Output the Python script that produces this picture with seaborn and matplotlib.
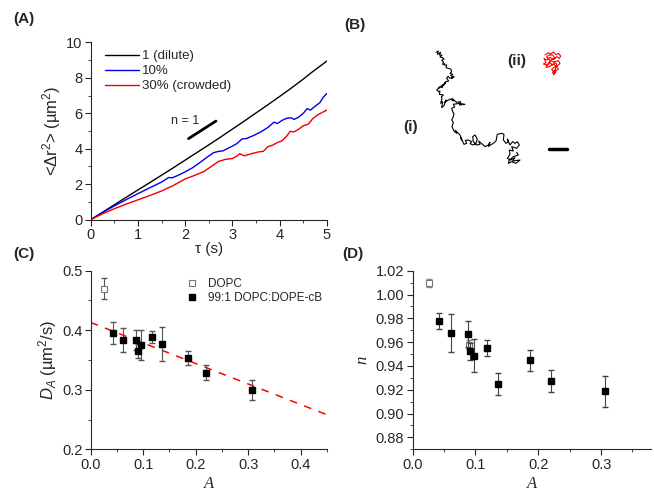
import numpy as np
import pandas as pd
import matplotlib
matplotlib.use('Agg')
import matplotlib.pyplot as plt
import seaborn as sns
from matplotlib.ticker import MultipleLocator, FormatStrFormatter

sns.set_style('ticks')
plt.rcParams['font.family'] = ['Liberation Sans', 'DejaVu Sans']
plt.rcParams['mathtext.fontset'] = 'custom'
plt.rcParams['mathtext.rm'] = 'Liberation Sans'
plt.rcParams['mathtext.it'] = 'Liberation Sans:italic'
plt.rcParams['axes.linewidth'] = 0.8

#%% DATA
# (A) MSD curves
t_dilute = [0, 0.25, 0.5, 0.75, 1, 1.25, 1.5, 1.75, 2, 2.25, 2.5, 2.75, 3, 3.25, 3.5, 3.75,
            4, 4.25, 4.5, 4.65, 4.8, 5]
msd_dilute = [0, 0.42, 0.84, 1.26, 1.68, 2.09, 2.51, 2.93, 3.36, 3.79, 4.22, 4.66, 5.11, 5.56,
              6.02, 6.48, 6.95, 7.43, 7.93, 8.25, 8.55, 8.95]
t_10 = [0, 0.25, 0.5, 0.75, 1, 1.25, 1.5, 1.65, 1.72, 1.85, 2, 2.15, 2.3, 2.45, 2.6, 2.7, 2.8,
        2.9, 3.0, 3.1, 3.2, 3.3, 3.45, 3.6, 3.75, 3.88, 3.95, 4.05, 4.15, 4.25, 4.3, 4.4, 4.5,
        4.58, 4.65, 4.75, 4.85, 4.92, 5.0]
msd_10 = [0, 0.4, 0.78, 1.13, 1.47, 1.8, 2.12, 2.38, 2.36, 2.5, 2.7, 2.92, 3.2, 3.5, 3.78, 3.85,
          3.88, 4.02, 4.15, 4.3, 4.55, 4.58, 4.75, 4.95, 5.2, 5.5, 5.42, 5.6, 5.72, 5.74, 5.65,
          5.78, 6.0, 6.26, 6.18, 6.4, 6.6, 6.9, 7.12]
t_30 = [0, 0.25, 0.5, 0.75, 1, 1.25, 1.5, 1.75, 2, 2.2, 2.4, 2.55, 2.7, 2.85, 3.0, 3.1, 3.15,
        3.25, 3.4, 3.55, 3.65, 3.75, 3.85, 3.95, 4.05, 4.15, 4.22, 4.3, 4.4, 4.5, 4.6, 4.7, 4.8,
        4.9, 5.0]
msd_30 = [0, 0.33, 0.62, 0.88, 1.12, 1.36, 1.62, 1.93, 2.3, 2.5, 2.72, 3.0, 3.28, 3.4, 3.45,
          3.6, 3.72, 3.6, 3.72, 3.82, 3.85, 4.12, 4.2, 4.35, 4.45, 4.72, 4.98, 4.95, 5.1, 5.3,
          5.38, 5.7, 5.9, 6.05, 6.18]
series_labels = ['1 (dilute)', '10%', '30% (crowded)']
slope_t = [2.07, 2.65]
slope_msd = [4.57, 5.56]

# (B) trajectories (units of 1/54 um)
traj_i_x = [48, 55, 52, 62, 58, 66, 60, 68, 72, 65, 70, 68, 74, 72, 80, 78, 85, 92, 95, 90, 98,
            92, 102, 95, 100, 90, 84, 80, 86, 78, 72, 76, 65, 70, 55, 60, 50, 56, 60, 58, 70,
            64, 66, 62, 68, 65, 72, 78, 74, 90, 100, 96, 110, 122, 118, 135, 118, 100, 104, 95,
            98, 102, 100, 95, 100, 96, 102, 110, 106, 120, 125, 122, 132, 140, 136, 145, 155,
            150, 160, 168, 172, 165, 158, 160, 170, 180, 176, 190, 195, 205, 210, 205, 220,
            228, 232, 245, 252, 250, 258, 265, 262, 270, 278, 285, 292, 298, 290, 275, 280,
            268, 270, 262, 272, 285, 278, 300, 288, 275, 265, 268, 280, 295, 290]
traj_i_y = [22, 18, 28, 22, 30, 30, 36, 38, 42, 46, 50, 58, 56, 60, 60, 68, 70, 72, 80, 85, 88,
            92, 95, 100, 96, 100, 94, 100, 108, 110, 120, 112, 128, 118, 130, 126, 135, 140,
            138, 148, 150, 156, 160, 175, 170, 188, 182, 165, 172, 162, 168, 160, 172, 170, 180,
            178, 175, 178, 186, 190, 200, 206, 215, 225, 232, 245, 258, 265, 256, 270, 285, 276,
            298, 295, 286, 285, 290, 296, 300, 295, 282, 270, 275, 290, 300, 298, 288, 300, 305,
            300, 292, 304, 295, 288, 268, 265, 268, 285, 295, 290, 282, 300, 290, 295, 290, 300,
            310, 305, 318, 315, 328, 340, 345, 338, 348, 345, 355, 350, 355, 345, 335, 330, 322]
traj_ii_x = [45, 55, 62, 70, 78, 85, 92, 88, 80, 72, 60, 50, 42, 48, 40, 52, 60, 68, 75, 85,
             90, 82, 72, 65, 70, 75, 78, 85, 80, 70, 58, 48, 55, 62, 75, 68, 58, 50, 60, 70, 80,
             72, 68, 74]
traj_ii_y = [45, 38, 42, 36, 44, 40, 48, 55, 50, 58, 52, 60, 55, 68, 72, 75, 68, 75, 65, 62,
             70, 78, 82, 88, 95, 100, 92, 88, 80, 72, 80, 82, 70, 60, 55, 45, 45, 50, 62, 65, 72,
             105, 98, 90]

# (C) diffusion coefficients
A_dopc = [0.0246]
D_dopc = [0.470]
D_dopc_err = [0.017]
A_cb = [0.0417, 0.0607, 0.0866, 0.0904, 0.0967, 0.117, 0.135, 0.186, 0.2205, 0.3065]
D_cb = [0.395, 0.383, 0.384, 0.365, 0.375, 0.388, 0.377, 0.353, 0.329, 0.300]
D_cb_err = [0.018, 0.020, 0.017, 0.012, 0.025, 0.010, 0.029, 0.012, 0.012, 0.017]
fit_A = [0.0, 0.45]
fit_D = [0.413, 0.258]

# (D) anomalous exponent
A_dopc_n = [0.026, 0.0892]
n_dopc = [1.0097, 0.958]
n_dopc_err = [0.0035, 0.004]
A_cb_n = [0.0424, 0.0615, 0.0875, 0.0907, 0.0976, 0.1178, 0.1363, 0.1868, 0.2202, 0.3067]
n_cb = [0.9778, 0.9674, 0.9668, 0.9523, 0.9486, 0.9548, 0.9248, 0.9447, 0.9276, 0.9189]
n_cb_err = [0.007, 0.016, 0.011, 0.007, 0.014, 0.0066, 0.009, 0.0086, 0.0094, 0.013]

#%% FIGURE
fig = plt.figure(figsize=(6.54, 4.93), dpi=100)
W, H = 654, 493


def box(x0, y0, x1, y1):
    return [x0 / W, 1 - y1 / H, (x1 - x0) / W, (y1 - y0) / H]


def style_axes(ax):
    sns.despine(ax=ax)
    ax.tick_params(which='major', direction='out', length=4, width=0.8, labelsize=10.5, pad=2)
    ax.tick_params(which='minor', direction='out', length=2, width=0.6)


# (A)
ax_a = fig.add_axes(box(90.7, 42.3, 327, 219.7))
msd_df = pd.concat([
    pd.DataFrame({'t': t_dilute, 'msd': msd_dilute, 'sample': series_labels[0]}),
    pd.DataFrame({'t': t_10, 'msd': msd_10, 'sample': series_labels[1]}),
    pd.DataFrame({'t': t_30, 'msd': msd_30, 'sample': series_labels[2]}),
])
sns.lineplot(data=msd_df, x='t', y='msd', hue='sample', palette=['black', '#0000ee', '#ee0000'],
             sort=False, estimator=None, linewidth=1.0, ax=ax_a)
ax_a.plot(slope_t, slope_msd, color='black', linewidth=2)
ax_a.text(2.0, 5.55, 'n = 1', fontsize=9, ha='center', va='center')
ax_a.set_xlim(0, 5)
ax_a.set_ylim(0, 10)
ax_a.xaxis.set_major_locator(MultipleLocator(1))
ax_a.xaxis.set_minor_locator(MultipleLocator(0.5))
ax_a.yaxis.set_major_locator(MultipleLocator(2))
ax_a.yaxis.set_minor_locator(MultipleLocator(1))
ax_a.set_xlabel('τ (s)', fontsize=11, labelpad=0)
ax_a.set_ylabel('<Δr$^2$> (µm$^2$)', fontsize=12, labelpad=2)
style_axes(ax_a)
ax_a.legend(loc='upper left', bbox_to_anchor=(0.025, 1.0), frameon=False, fontsize=9.5,
            handlelength=2.6, handletextpad=0.25, labelspacing=0.2, borderaxespad=0.2)

# (B)
ax_b = fig.add_axes(box(400, 30, 654, 240))
ax_b.set_xlim(0, 254 / 18)
ax_b.set_ylim(210 / 18, 0)
ax_b.axis('off')
um = 1 / 54
traj_i = pd.DataFrame({'x': np.array(traj_i_x) * um + 20 / 18, 'y': np.array(traj_i_y) * um + 15 / 18})
traj_ii = pd.DataFrame({'x': np.array(traj_ii_x) * um + 130 / 18, 'y': np.array(traj_ii_y) * um + 10 / 18})
sns.lineplot(data=traj_i, x='x', y='y', sort=False, estimator=None, color='black', linewidth=0.8, ax=ax_b)
sns.lineplot(data=traj_ii, x='x', y='y', sort=False, estimator=None, color='red', linewidth=0.8, ax=ax_b)
ax_b.plot([149 / 18, 167 / 18], [119 / 18, 119 / 18], color='black', linewidth=2.5)
ax_b.text(10.7 / 18, 97 / 18, '(i)', fontsize=11, fontweight='bold', ha='center', va='center')
ax_b.text(116.7 / 18, 30.7 / 18, '(ii)', fontsize=11, fontweight='bold', ha='center', va='center')

# (C)
ax_c = fig.add_axes(box(90.7, 270.7, 327, 449.3))
ax_c.plot(fit_A, fit_D, color='#ff0000', linestyle=(0, (5, 5)), linewidth=1.1)
ax_c.errorbar(A_dopc, D_dopc, yerr=D_dopc_err, fmt='none', ecolor='#555555', elinewidth=0.8, capsize=2.5)
ax_c.errorbar(A_cb, D_cb, yerr=D_cb_err, fmt='none', ecolor='#555555', elinewidth=0.8, capsize=2.5)
ax_c.plot(A_dopc, D_dopc, 's', markerfacecolor='white', markeredgecolor='#777777', markersize=4.5,
          markeredgewidth=0.8, linestyle='none', label='DOPC')
ax_c.plot(A_cb, D_cb, 's', color='black', markersize=5, linestyle='none', label='99:1 DOPC:DOPE-cB')
ax_c.set_xlim(0, 0.45)
ax_c.set_ylim(0.2, 0.5)
ax_c.xaxis.set_major_locator(MultipleLocator(0.1))
ax_c.xaxis.set_minor_locator(MultipleLocator(0.05))
ax_c.yaxis.set_major_locator(MultipleLocator(0.1))
ax_c.yaxis.set_minor_locator(MultipleLocator(0.05))
ax_c.xaxis.set_major_formatter(FormatStrFormatter('%.1f'))
ax_c.yaxis.set_major_formatter(FormatStrFormatter('%.1f'))
ax_c.set_xlabel('A', fontsize=12, family='Liberation Serif', style='italic', labelpad=3)
ax_c.set_ylabel('$D_A$ (µm$^2$/s)', fontsize=12, labelpad=2)
style_axes(ax_c)
ax_c.legend(loc='upper right', bbox_to_anchor=(1.01, 1.0), frameon=False, fontsize=8.5,
            handlelength=1.0, handletextpad=0.9, labelspacing=0.2, borderaxespad=0.2)

# (D)
ax_d = fig.add_axes(box(412.7, 270.7, 650.7, 449.3))
ax_d.errorbar(A_dopc_n, n_dopc, yerr=n_dopc_err, fmt='none', ecolor='#888888', elinewidth=0.8, capsize=2.5)
ax_d.plot(A_dopc_n, n_dopc, 's', markerfacecolor='white', markeredgecolor='#777777', markersize=4.5,
          markeredgewidth=0.8, linestyle='none')
ax_d.errorbar(A_cb_n, n_cb, yerr=n_cb_err, fmt='none', ecolor='#444444', elinewidth=0.8, capsize=2.5)
ax_d.plot(A_cb_n, n_cb, 's', color='black', markersize=5, linestyle='none')
ax_d.set_xlim(0, 0.379)
ax_d.set_ylim(0.87, 1.02)
ax_d.xaxis.set_major_locator(MultipleLocator(0.1))
ax_d.xaxis.set_minor_locator(MultipleLocator(0.05))
ax_d.yaxis.set_major_locator(MultipleLocator(0.02))
ax_d.yaxis.set_minor_locator(MultipleLocator(0.01))
ax_d.xaxis.set_major_formatter(FormatStrFormatter('%.1f'))
ax_d.yaxis.set_major_formatter(FormatStrFormatter('%.2f'))
ax_d.set_xlabel('A', fontsize=12, family='Liberation Serif', style='italic', labelpad=3)
ax_d.set_ylabel('n', fontsize=12, family='Liberation Serif', style='italic', labelpad=4)
style_axes(ax_d)

# panel labels
for lbl, x, y in [('(A)', 24, 19), ('(B)', 355, 25), ('(C)', 24, 254), ('(D)', 353, 254)]:
    fig.text(x / W, 1 - y / H, lbl, fontsize=11, fontweight='bold', ha='center', va='center')

fig.savefig('out.png', dpi=100)
